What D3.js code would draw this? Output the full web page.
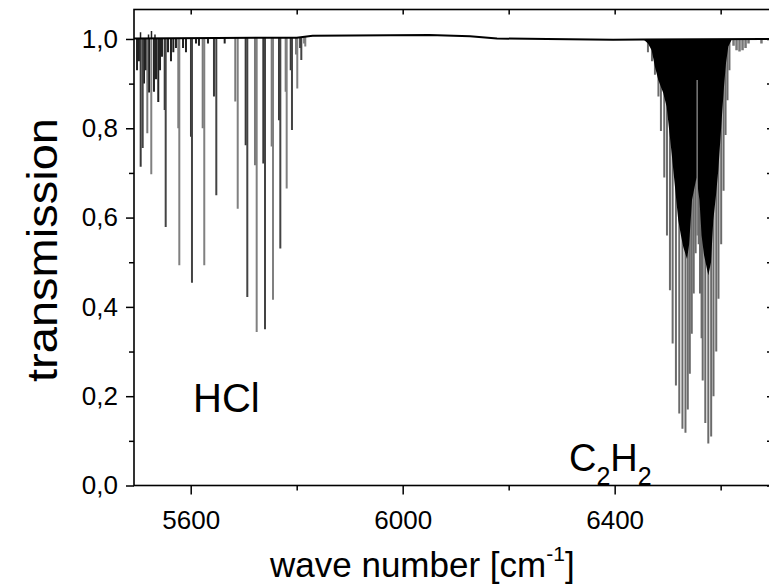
<!DOCTYPE html>
<html><head><meta charset="utf-8">
<script src="https://cdn.jsdelivr.net/npm/d3@7"></script>
<style>
body{margin:0;background:#fff;}
text{font-family:"Liberation Sans",Arial,Helvetica,sans-serif;fill:#000;}
</style>
</head><body>
<svg id="chart" width="769" height="585"></svg>
<script>
// ---------- data ----------
const xMajorTicks = [5600, 6000, 6400];
const xMinorTicks = [5800, 6200, 6600];
const yMajorTicks = [0, 0.2, 0.4, 0.6, 0.8, 1.0];
const yMinorTicks = [0.1, 0.3, 0.5, 0.7, 0.9];

// baseline of the transmission spectrum
const baselineWn = [5493, 5800, 5830, 6050, 6127, 6178, 6272, 6397, 6453, 6695];
const baselineT  = [1.001, 1.003, 1.007, 1.009, 1.006, 1.001, 1.000, 0.998, 0.999, 1.000];

// HCl doublets: weaker H37Cl partner and stronger H35Cl line
const hclWeakWn   = [5505.6, 5518.1, 5550.9, 5576.6, 5600.5, 5622.6, 5643.9, 5684.1, 5703.7, 5721.3, 5737.0, 5752.8, 5766.6, 5779.2, 5788.7, 5798.7, 5806.5, 5814.0];
const hclWeakT    = [0.714, 0.789, 0.841, 0.800, 0.781, 0.800, 0.871, 0.860, 0.762, 0.717, 0.721, 0.759, 0.818, 0.882, 0.930, 0.965, 0.980, 0.990];
const hclStrongWn = [5509.4, 5525.6, 5552.8, 5578.5, 5602.4, 5625.6, 5648.3, 5688.7, 5706.8, 5724.5, 5740.2, 5755.3, 5769.1, 5781.1, 5791.1, 5801.1, 5808.7, 5816.2];
const hclStrongT  = [0.756, 0.697, 0.579, 0.493, 0.454, 0.493, 0.650, 0.620, 0.422, 0.344, 0.350, 0.416, 0.531, 0.665, 0.796, 0.889, 0.953, 0.983];

// small absorption features in the HCl region
const smallWn = [5498.7, 5502.4, 5511.9, 5515.6, 5521.3, 5530.7, 5534.5, 5538.8, 5542.1, 5545.8, 5557.2, 5562.8, 5567.2, 5572.2, 5585.5, 5591.1, 5610.0, 5615.6, 5632.6, 5664.1];
const smallT  = [0.930, 0.950, 0.900, 0.930, 0.880, 0.882, 0.910, 0.859, 0.930, 0.960, 0.970, 0.950, 0.970, 0.980, 0.980, 0.970, 0.990, 0.985, 0.990, 0.990];
const spikeWn = [5505.3, 5520.4, 5526.0, 5532.6];
const spikeT  = [1.015, 1.010, 1.018, 1.010];

// C2H2 band: individual line minima
const c2h2Wn = [6462.8, 6470.4, 6476.0, 6482.6, 6487.3, 6493.6, 6498.7, 6504.3, 6509.4, 6515.6, 6521.9, 6527.9, 6533.6,
                6538.0, 6541.8, 6545.5, 6549.2, 6552.8, 6558.5, 6561.0, 6564.0,
                6566.1, 6571.0, 6576.7, 6582.1, 6586.5, 6591.7, 6595.9, 6601.0, 6605.5, 6609.3, 6612.9, 6616.6];
const c2h2T  = [0.970, 0.950, 0.920, 0.871, 0.794, 0.690, 0.560, 0.437, 0.318, 0.224, 0.161, 0.127, 0.118,
                0.170, 0.250, 0.340, 0.430, 0.520, 0.540, 0.430, 0.330,
                0.235, 0.140, 0.094, 0.110, 0.200, 0.300, 0.418, 0.540, 0.660, 0.785, 0.863, 0.930];
// C2H2 band: envelope of the unresolved (dense) absorption
const c2h2EnvWn = [6453.4, 6462.8, 6469.8, 6476.0, 6482.3, 6491.7, 6498.1, 6502.5, 6507.5, 6513.8, 6520.0, 6525.1, 6529.5, 6536.5, 6540.5, 6546.0, 6554.4, 6560.0, 6564.0, 6568.6, 6576.7, 6581.8, 6586.1, 6591.2, 6595.5, 6601.9, 6606.3, 6610.1, 6614.4, 6620.8];
const c2h2EnvT  = [1.000, 0.990, 0.975, 0.938, 0.908, 0.879, 0.848, 0.800, 0.744, 0.669, 0.594, 0.560, 0.534, 0.507, 0.540, 0.640, 0.690, 0.640, 0.560, 0.516, 0.471, 0.500, 0.594, 0.650, 0.706, 0.818, 0.893, 0.946, 0.983, 0.998];
// band-centre gap (grey streak inside the dense absorption)
const gapWn     = [6555.7];
const gapTopT   = [0.908];
const gapLowT   = [0.560];
// weak features beyond the band
const tailWn = [6624.3, 6630.0, 6635.6, 6641.3, 6647.0, 6652.6, 6677.0];
const tailT  = [0.985, 0.975, 0.972, 0.975, 0.980, 0.990, 0.990];

// ---------- chart ----------
const svg = d3.select("#chart");
const L = 134, R = 771, T = 9.5, B = 485.5;
const x = d3.scaleLinear().domain([5493, 6695]).range([L, R]);
const y = d3.scaleLinear().domain([0, 1.066]).range([B, T]);

svg.append("defs").append("clipPath").attr("id", "clip")
  .append("rect").attr("x", L).attr("y", T).attr("width", R - L).attr("height", B - T);

const plot = svg.append("g").attr("clip-path", "url(#clip)");
const baseScale = d3.scaleLinear().domain(baselineWn).range(baselineT).clamp(true);
const baseAt = wn => baseScale(wn);

function drawLines(wns, ts, color, width, tops) {
  plot.append("g").selectAll("line").data(d3.zip(wns, ts)).join("line")
    .attr("x1", d => x(d[0])).attr("x2", d => x(d[0]))
    .attr("y1", (d, i) => y(tops ? tops[i] : baseAt(d[0]))).attr("y2", d => y(d[1]))
    .attr("stroke", typeof color === "function" ? (d, i) => color(i) : color)
    .attr("stroke-width", width);
}

drawLines(smallWn, smallT, "#222", 2);
drawLines(spikeWn, spikeT, "#222", 1.5);
drawLines(hclWeakWn, hclWeakT, i => (i % 2 ? "#7a7a7a" : "#3a3a3a"), 2);
drawLines(hclStrongWn, hclStrongT, i => (i % 2 ? "#808080" : "#444"), 2);
drawLines(c2h2Wn, c2h2T, "#6b6b6b", 2);
drawLines(tailWn, tailT, "#777", 2.5);

// dense C2H2 absorption
plot.append("path")
  .datum(d3.zip(c2h2EnvWn, c2h2EnvT))
  .attr("fill", "#000")
  .attr("d", d3.area().x(d => x(d[0])).y0(d => y(baseAt(d[0]))).y1(d => y(d[1])));

drawLines(gapWn, gapLowT, "#7a7a7a", 1.5, gapTopT);

// baseline
plot.append("path")
  .datum(d3.zip(baselineWn, baselineT))
  .attr("fill", "none").attr("stroke", "#000").attr("stroke-width", 2)
  .attr("d", d3.line().x(d => x(d[0])).y(d => y(d[1])));

// ---------- axes ----------
const fmtY = d => d.toFixed(1).replace(".", ",");
function styleAxis(g) {
  g.select(".domain").remove();
  g.selectAll(".tick line").attr("stroke", "#000").attr("stroke-width", 1.5);
  g.selectAll(".tick text").attr("font-family", "'Liberation Sans', Arial, sans-serif")
    .attr("font-size", 26).attr("fill", "#111");
}
svg.append("g").attr("transform", `translate(0,${B})`)
  .call(d3.axisBottom(x).tickValues(xMajorTicks).tickSize(9).tickPadding(16).tickFormat(d3.format("d"))).call(styleAxis);
svg.append("g").attr("transform", `translate(0,${B})`)
  .call(d3.axisBottom(x).tickValues(xMinorTicks).tickSize(5).tickFormat("")).call(styleAxis);
svg.append("g").attr("transform", `translate(0,${T})`)
  .call(d3.axisTop(x).tickValues(xMajorTicks.concat(xMinorTicks)).tickSize(-5).tickFormat("")).call(styleAxis);

svg.append("g").attr("transform", `translate(${L},0)`)
  .call(d3.axisLeft(y).tickValues(yMajorTicks).tickSize(8).tickPadding(8).tickFormat(fmtY)).call(styleAxis);
svg.append("g").attr("transform", `translate(${L},0)`)
  .call(d3.axisLeft(y).tickValues(yMinorTicks).tickSize(5).tickFormat("")).call(styleAxis);
svg.append("g").attr("transform", `translate(${R},0)`)
  .call(d3.axisRight(y).tickValues(yMajorTicks.concat(yMinorTicks)).tickSize(-4).tickFormat("")).call(styleAxis);

// frame
svg.append("rect").attr("x", L).attr("y", T).attr("width", R - L).attr("height", B - T)
  .attr("fill", "none").attr("stroke", "#000").attr("stroke-width", 1.6);

// ---------- labels ----------
svg.append("text").attr("x", 193).attr("y", 412).attr("font-size", 40).text("HCl");

const c2 = svg.append("text").attr("x", 569).attr("y", 471).attr("font-size", 38);
c2.append("tspan").text("C");
c2.append("tspan").attr("font-size", 25).attr("dy", 14).text("2");
c2.append("tspan").attr("dy", -14).text("H");
c2.append("tspan").attr("font-size", 25).attr("dy", 14).text("2");

const xt = svg.append("text").attr("x", 270).attr("y", 577).attr("font-size", 35);
xt.append("tspan").text("wave number [cm");
xt.append("tspan").attr("font-size", 21).attr("dy", -16).text("-1");
xt.append("tspan").attr("dy", 16).text("]");

svg.append("text").attr("transform", "translate(57,250) rotate(-90) scale(1.12,1)")
  .attr("text-anchor", "middle").attr("font-size", 42).text("transmission");
</script>
</body></html>
